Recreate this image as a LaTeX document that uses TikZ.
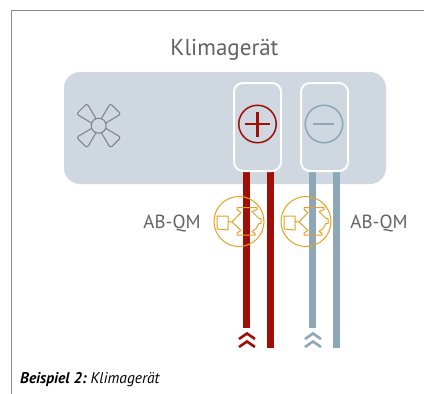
\documentclass[tikz,border=0pt]{standalone}
\usepackage{fontspec}
\setmainfont{PT Sans}
\definecolor{unitgray}{HTML}{CFD7E0}
\definecolor{hotred}{HTML}{A00F05}
\definecolor{coldblue}{HTML}{8CA8B8}
\definecolor{valveor}{HTML}{E9A020}
\definecolor{framegray}{HTML}{8A8A8A}
\definecolor{fangray}{HTML}{7F7F7F}
\definecolor{textgray}{HTML}{636363}
\tikzset{x=1pt,y=-1pt,
 pipehot/.style={draw=hotred,line width=7pt},
 pipecold/.style={draw=coldblue,line width=7pt},
 slot/.style={draw=white,line width=2pt,rounded corners=9pt,minimum width=47pt,minimum height=88pt,inner sep=0pt},
 vline/.style={draw=valveor,line width=1pt,line join=round},
 chev/.style={line width=2.6pt,miter limit=10},
 lbl/.style={text=textgray,inner sep=0pt,font=\fontsize{19}{22}\selectfont}}
\newcommand{\valve}[3]{%
 \begin{scope}[shift={(#1,#2)}]
 \node[circle,draw=valveor,line width=1pt,fill=none,minimum size=50pt,inner sep=0pt] (#3) at (0,0) {};
 \draw[vline] (-22,-5.5) -- (-11,-5.5) -- (-11,8.5) -- (-22,7.5) -- cycle;
 \draw[vline] (-11,0) -- (-7,0.5) -- (2,-9) -- (-2,-12) -- (-2,-14) -- (18,-14) -- (18,-12) -- (13,-10) -- (17,-6) -- (20,-3) -- (22,-3) -- (22,2) -- (20,2) -- (17,7) -- (13,10) -- (16,12) -- (16,13.5) -- (-2,13.5) -- (-2,11.5) -- (2,9) -- (-7,0.5);
 \end{scope}}
\begin{document}
\begin{tikzpicture}
\useasboundingbox (0,0) rectangle (424,394);
\fill[white] (0,0) rectangle (424,394);
\draw[framegray,line width=1.5pt] (11.5,394) -- (11.5,10.5) -- (424,10.5);
\node[lbl,font=\fontsize{23}{27}\selectfont] (title) at (224.5,50) {Klimagerät};
\node[fill=unitgray,rounded corners=16pt,minimum width=322pt,minimum height=112pt,inner sep=0pt] (unit) at (225,128) {};
% pipes
\coordinate (ra) at (246.5,172); \coordinate (rb) at (246.5,328);
\coordinate (rc) at (270.5,172); \coordinate (rd) at (270.5,348);
\coordinate (ca) at (312.5,172); \coordinate (cb) at (312.5,328);
\coordinate (cc) at (336.5,172); \coordinate (cd) at (336.5,348);
\draw[pipehot] (ra) -- (rb);
\draw[pipehot] (rc) -- (rd);
\draw[pipecold] (ca) -- (cb);
\draw[pipecold] (cc) -- (cd);
\node[slot] (plusbox) at (257.5,127) {};
\node[slot] (minusbox) at (324.5,127) {};
\node[circle,draw=hotred,line width=1.5pt,minimum size=37.5pt,inner sep=0pt] (plus) at (257.5,124) {};
\draw[hotred,line width=2.6pt] (245,124) -- (270,124) (257.5,112) -- (257.5,137);
\node[circle,draw=coldblue,line width=1.5pt,minimum size=37.5pt,inner sep=0pt] (minus) at (324,124) {};
\draw[coldblue,line width=2.6pt] (313,124) -- (334,124);
% fan
\begin{scope}[shift={(98.7,125.7)}]
\node[circle,draw=fangray,line width=1pt,minimum size=15pt,inner sep=0pt] (hub) at (0,0) {};
\foreach \r in {45,135,225,315}{
\draw[fangray,line width=1pt,line join=round,rotate=\r,rounded corners=2.5pt] (6.5,-3) -- (24,-7.5) -- (24,7.5) -- (6.5,3);}
\end{scope}
\valve{239}{221.5}{va}
\valve{306}{221.5}{vb}
\node[lbl] (ab1) at (172,223) {AB-QM};
\node[lbl] (ab2) at (379,223) {AB-QM};
% chevrons
\draw[hotred,chev] (239,339) -- (247,333.5) -- (255,339);
\draw[hotred,chev] (239,347) -- (247,341.5) -- (255,347);
\draw[coldblue,chev] (305,339) -- (313,333.5) -- (321,339);
\draw[coldblue,chev] (305,347) -- (313,341.5) -- (321,347);
\node[anchor=west,inner sep=0pt,text=black,font=\fontsize{15.5}{18}\selectfont] (cap) at (20,380) {\textbf{\textit{Beispiel 2:}}\hspace{3.5pt}\textit{Klimagerät}};
\end{tikzpicture}
\end{document}
